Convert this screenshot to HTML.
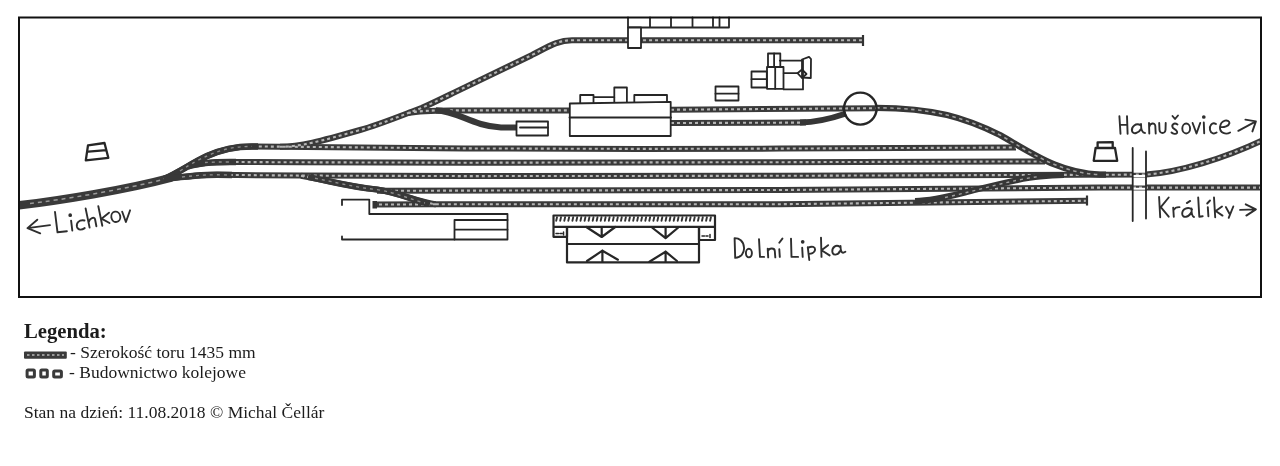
<!DOCTYPE html>
<html><head><meta charset="utf-8">
<style>
html,body{margin:0;padding:0;background:#fff;width:1280px;height:466px;overflow:hidden}
.leg{position:absolute;will-change:transform;font-family:"Liberation Serif",serif;color:#1c1c1c;white-space:nowrap;line-height:1}
svg{position:absolute;left:0;top:0}
</style></head><body>
<svg width="1280" height="466" viewBox="0 0 1280 466">
<defs>
<clipPath id="fr"><rect x="19" y="17" width="1242" height="280"/></clipPath>
<g id="T">
 <path d="M164,179 C185,176.5 200,174.8 217,174.8 L300,175.6 L465,176.1 L780,175.8 L1146,174.6 C1180,172 1225,158 1263,140"/>
 <path d="M164,179 C178,173 192,163 207,156 C222,149 235,146.4 252,146.4 L465,148.4 L640,148.9 L780,148.6 L1016,147.5"/>
 <path d="M188,166.5 C200,162.5 215,162 230,162 L300,162.3 L465,162.7 L780,162.2 L1045,161.4"/>
 <path d="M301,175.8 C330,181 350,187 377,189.5 C400,193 415,201 435,204.3 L780,204.2 L1087,200.8"/>
 <path d="M377,190.8 L780,190 L1100,187.6 L1260,187.6"/>
 <path d="M373,204.6 L436,204.3"/>
  <path d="M280,146.8 C300,146.7 320,141.5 360,130 C380,124.5 400,116 422,107.8 C435,102 445,97 454,92.6 L531.6,55.2 C548,46.8 558,40.2 572,40.2 L863,40.3"/>
 <path d="M408,113 C420,110.6 435,110.4 450,110.4 L569,110.4"/>
 <path d="M671,109.7 L878,108.2"/>
  <path d="M671,123 L806,122.6"/>
 </g>
</defs>
<!-- frame -->


<path clip-path="url(#fr)" d="M19,205.4 C60,200.5 125,190 170,178" fill="none" stroke="#3a3a3a" stroke-width="8.5" stroke-linecap="round"/>
<path d="M30,203.5 C60,200 125,189.5 166,178.8" fill="none" stroke="#9a9a9a" stroke-width="1.5" stroke-dasharray="4 4"/>
<use href="#T" clip-path="url(#fr)" fill="none" stroke="#3a3a3a" stroke-width="6"/>
<use href="#T" clip-path="url(#fr)" fill="none" stroke="#b4b4b4" stroke-width="2.1" stroke-dasharray="3 3"/>
<g fill="none">
<path d="M800,122.6 C815,122.3 830,119 846,113.5" stroke="#363636" stroke-width="6"/>
<g stroke="#383838" stroke-width="6.5"><path d="M164,179 C178,173 192,163 207,156 C222,149 235,146.4 252,146.4 L258,146.5"/>
<path d="M164,179 C185,176.5 200,174.8 217,174.8 L232,175"/>
<path d="M188,166.5 C200,162.5 215,162 230,162 L236,162.1"/></g>
<g stroke="#8c8c8c" stroke-width="1.4" stroke-dasharray="3 4"><path d="M180,171 C192,163 200,159 207,156 C222,149 235,146.4 252,146.4"/>
<path d="M182,177 C195,175.5 205,174.8 217,174.8 L232,175"/>
<path d="M205,162.5 C212,162.1 220,162 230,162"/></g>
<path d="M308,177 C330,181 350,187 377,189.5 C400,193 415,201 430,203.8" stroke="#383838" stroke-width="6.2"/>
<path d="M315,178.3 C335,182 355,187.5 377,189.6 C398,193 412,200 425,203" stroke="#8c8c8c" stroke-width="1.4" stroke-dasharray="3 4"/>
<path d="M436,110.4 C458,111 472,126 501,127.5 L518,127.5" stroke="#383838" stroke-width="6.2"/>
<path id="cv1" d="M876,107.8 C935,108 965,118 1000,135 C1035,155 1060,173 1100,174.6 L1106,174.6" stroke="#363636" stroke-width="6.2"/>
<path d="M876,107.8 C935,108 965,118 1000,135 C1035,155 1060,173 1100,174.6" stroke="#a0a0a0" stroke-width="1.6" stroke-dasharray="3.5 3.5"/>
<path d="M915,201.1 C930,200.8 945,197.5 965,192.5 C995,185 1020,178 1040,176.6 C1050,175.4 1056,175.1 1064,175" stroke="#363636" stroke-width="6"/>
<path d="M945,197.5 C980,190 1010,180 1040,176.5" stroke="#a0a0a0" stroke-width="1.4" stroke-dasharray="3 4"/>
</g>
<!-- bumpers -->
<g stroke="#333" stroke-width="2.2" fill="none">
 <line x1="863" y1="35" x2="863" y2="46"/>
 <line x1="1087" y1="195.5" x2="1087" y2="205.5"/>
 <rect x="372.5" y="201" width="4.5" height="7.5" fill="#333" stroke="none"/>
</g>

<g fill="none" stroke="#262626" stroke-width="1.8" stroke-linejoin="round" stroke-linecap="round">
 <!-- circle -->
 <ellipse cx="860.3" cy="108.6" rx="16.3" ry="16" stroke-width="2.4"/>
 <!-- top buildings -->
 <path d="M628,17.5 V27.5 H729 V17.5 M650,17.5 V27 M671,17.5 V27 M692.5,17.5 V26.5 M713,17.5 V26 M719.5,17.5 V26"/>
 <rect x="628" y="27.5" width="13" height="20.5" fill="#fff"/>
 <!-- small rect near shed -->
 <rect x="715.5" y="86.5" width="23" height="14"/>
 <line x1="715.5" y1="93.7" x2="738.5" y2="93.7"/>
 <!-- shed complex -->
 <rect x="751.5" y="71.5" width="15.3" height="16"/>
 <line x1="751.5" y1="79.2" x2="766.8" y2="79.2"/>
 <rect x="767" y="67" width="16.5" height="21.8"/>
 <line x1="775.2" y1="67" x2="775.2" y2="88.8"/>
 <rect x="768" y="53.5" width="12.3" height="13.5"/>
 <line x1="774.1" y1="53.5" x2="774.1" y2="67"/>
 <path d="M779.8,60.6 H802.5 M803,60 V89.4 H783.7 M783.7,73.2 H797.5"/>
 <path d="M802,59.5 L809,56.8 L811,59 L810.8,78 L802,77.5 Z"/>
 <path d="M797.5,73.2 L802,69.5 L806.5,74 L802,78 Z"/>
 <!-- station building -->
 <path d="M569.8,103.5 L670.7,101.8 V136 H569.8 Z" fill="#fff"/>
 <line x1="569.5" y1="117.5" x2="671" y2="117.5"/>
 <path d="M580.2,103 V95 H593.5 V103 M593.5,97.2 H614.3"/>
 <path d="M614.3,102 V87.5 H626.9 V102"/>
 <path d="M634.3,102 V95 H667 V101.5"/>
 <rect x="516.5" y="121.5" width="31.5" height="14" fill="#fff"/>
 <line x1="520" y1="127.5" x2="548" y2="127.5"/>
 <!-- platforms trapezoids -->
 <g stroke-width="2.3"><path d="M88,145.3 L104.5,143 L108.3,157.8 L85.8,160.4 Z M88.4,151.7 L106.3,150.1"/>
 <path d="M1097.6,147.6 V142.4 L1112.7,142.1 V147.2 M1095.6,148 H1115 L1117.2,160.8 H1093.7 Z"/></g>
 <!-- bottom-left thin lines -->
 <path d="M342,205 V199.6 H369.3 V214 H507.5 V239.5 H342 V236.5"/>
 <path d="M454.5,220 H507.5 M454.5,229.6 H507.5 M454.5,220 V239.5"/>
 <!-- bottom platform -->
 <g stroke-width="2.2">
 <path d="M553.5,215.5 H715 V240 H699 V227 H567 V236.8 H553.5 Z M553.5,226.8 H715"/>
 <path d="M567,227 V262.4 H699 V227 M567,244 H699"/>
 <path d="M586.3,227 L601.7,237 L615.2,227 M601.7,228 V237 M652,227.5 L665.6,238.2 L678.3,227.5 M665.6,228 V238"/>
 <path d="M587,261 L602.4,250.7 L617.9,259.7 M602.4,250.7 V262 M649.4,261.7 L665.6,251.7 L677,261 M665.6,251.7 V262"/>
 </g>
 <path d="M556,233.5 h2.5 M560,233.5 h2 M563.5,232 v3 M702,236 h2.5 M706,236 h2 M710,234.5 v3" stroke-width="1.5"/>
 <!-- bridge -->
 <path d="M1133,171.8 H1146 M1133,176 H1146 M1133,184.5 H1146 M1133,188.8 H1146" stroke="#fff" stroke-width="2"/>
 <path d="M1132.7,148 V221 M1146,151.5 V218.5"/>
</g>
<!-- hatching on platform -->
<path d="M557.0,217.2 l-0.8,3.6 M561.0,217.2 l-0.8,3.6 M565.1,217.2 l-0.8,3.6 M569.1,217.2 l-0.8,3.6 M573.2,217.2 l-0.8,3.6 M577.2,217.2 l-0.8,3.6 M581.3,217.2 l-0.8,3.6 M585.4,217.2 l-0.8,3.6 M589.4,217.2 l-0.8,3.6 M593.5,217.2 l-0.8,3.6 M597.5,217.2 l-0.8,3.6 M601.5,217.2 l-0.8,3.6 M605.6,217.2 l-0.8,3.6 M609.6,217.2 l-0.8,3.6 M613.7,217.2 l-0.8,3.6 M617.8,217.2 l-0.8,3.6 M621.8,217.2 l-0.8,3.6 M625.9,217.2 l-0.8,3.6 M629.9,217.2 l-0.8,3.6 M634.0,217.2 l-0.8,3.6 M638.0,217.2 l-0.8,3.6 M642.0,217.2 l-0.8,3.6 M646.1,217.2 l-0.8,3.6 M650.1,217.2 l-0.8,3.6 M654.2,217.2 l-0.8,3.6 M658.2,217.2 l-0.8,3.6 M662.3,217.2 l-0.8,3.6 M666.4,217.2 l-0.8,3.6 M670.4,217.2 l-0.8,3.6 M674.5,217.2 l-0.8,3.6 M678.5,217.2 l-0.8,3.6 M682.5,217.2 l-0.8,3.6 M686.6,217.2 l-0.8,3.6 M690.6,217.2 l-0.8,3.6 M694.7,217.2 l-0.8,3.6 M698.8,217.2 l-0.8,3.6 M702.8,217.2 l-0.8,3.6 M706.9,217.2 l-0.8,3.6 M710.9,217.2 l-0.8,3.6" stroke="#333" stroke-width="1.9" stroke-linecap="round"/>

<!-- handwriting -->
<g fill="none" stroke="#2e2e2e" stroke-width="1.9" stroke-linecap="round" stroke-linejoin="round">
 <!-- <- Lichkov -->
 <path d="M37.3,219.7 L27.5,228.1 L40.2,233.3 M27.5,228.1 L50,225.1"/>
 <path d="M55,212 L57.5,232.3 L66.9,231.2"/>
 <path d="M71.1,220.6 L72.3,230.5"/><circle cx="70.2" cy="215.2" r="0.9" fill="#222"/>
 <path d="M84.5,220.5 C79,219.5 76,223 77,227 C78,230.5 82,230 84.7,228.1"/>
 <path d="M85.6,208.4 L89.6,227.6 M88.9,221.6 C90,218 94,216.5 95,219 L96.4,226.2"/>
 <path d="M98.3,206.1 L102.3,225.8 M109,212.7 L101.5,218.7 L109.5,223"/>
 <ellipse cx="115.8" cy="216.8" rx="4.5" ry="5.2" transform="rotate(-10 115.8 216.8)"/>
 <path d="M122.2,211.7 L125.9,222 L130.1,210.3"/>
 <!-- Hanusovice -> -->
 <path d="M1119.4,116.1 L1120.5,133.7 M1127,116.1 L1127.6,133.7 M1120,124.9 H1127.3"/>
 <path d="M1141,125.5 C1136,122 1131,127 1132,131 C1133,135 1139,133 1141,129 M1141,124 C1141,129 1142,133 1145,133"/>
 <path d="M1149,123 L1149.3,133.5 M1149.2,127 C1150,123 1155,122 1155.3,126 L1155.7,133.5"/>
 <path d="M1159.2,123 L1159.5,130 C1160,134 1165,134 1165.5,130 L1165.7,123"/>
 <path d="M1177.5,124.5 C1174,122 1171,125 1173,128 C1176,130 1178,131 1177,133 C1176,134.5 1173,134 1171.5,132.5 M1172.5,116 L1175,119 L1178,115.5"/>
 <ellipse cx="1186.2" cy="128.5" rx="3.9" ry="5" />
 <path d="M1192.6,123 L1196.5,133.5 L1200.2,123"/>
 <path d="M1203.8,122.5 L1204.2,133.3"/><circle cx="1203.8" cy="117" r="0.9" fill="#222"/>
 <path d="M1216,124 C1212,121.5 1209,126 1210,130 C1211,134 1214.5,134 1216.6,132.5"/>
 <path d="M1220.5,127 C1224,127.5 1229,126 1229.5,123 C1229,119 1221,119.5 1220,127 C1219.5,133 1226,135 1230.1,132.5"/>
 <path d="M1238.3,130.8 L1255.9,121.4 M1245.4,119.6 L1255.9,121.4 L1252.4,131.4"/>
 <!-- Kraliky -> -->
 <path d="M1159.1,196.9 L1160.2,217.3 M1168.7,197.5 L1160.8,207.1 L1168.7,216.7"/>
 <path d="M1173.2,207.7 L1173.8,216.7 M1173.6,210 C1175,207.5 1177.5,207 1179.5,207.1"/>
 <path d="M1192,209.5 C1188,206 1182,209 1182.2,214 C1182.5,218.5 1189,217.5 1191.5,212 M1191.5,208.5 C1191.5,213 1192,216.5 1194,217"/>
 <path d="M1186.8,203.1 L1190.2,200.9"/>
 <path d="M1198.2,197.5 L1199.3,216.7 L1202.7,216.2"/>
 <path d="M1207.8,207.1 L1208.4,216.2 M1207.2,203.5 L1210,200.5"/>
 <path d="M1214,197.5 L1215.2,217.3 M1222,206.5 L1215.7,211 L1222.5,215.6"/>
 <path d="M1225.9,207.1 L1229.9,214.5 M1233.3,206.5 L1228.7,217.8"/>
 <path d="M1240.1,209.9 L1255.9,209.4 M1245.7,204.3 L1255.9,209.4 L1246.3,215.6"/>
 <!-- Dolni Lipka -->
 <path d="M734.6,238.1 L735.2,257.9 C741,257.5 744.5,253 744,247.5 C743.5,241 739,238 734.6,238.1"/>
 <ellipse cx="748.9" cy="253.1" rx="3" ry="4.3"/>
 <path d="M759,239.1 L760,256.9 L764.1,256.9"/>
 <path d="M767.7,248.8 L768.2,257.4 M768,251 C769,248 774.5,247.5 774.8,251 L775.3,257.4"/>
 <path d="M779.3,249.3 L779.8,256.9 M779.3,242.7 L782.4,238.6"/>
 <path d="M791,238.6 L791.5,256.9 L798.1,256.9"/>
 <path d="M802.2,247.8 L802.7,256.9"/><circle cx="802.7" cy="241.8" r="0.9" fill="#222"/>
 <path d="M807.8,247.3 L809.3,260 M808,248 C812,245.5 815.5,247 815,250 C814.5,253 811,254 808.5,253.8"/>
 <path d="M821,237.6 L821.5,256.9 M828.1,245.2 L821.5,250.3 L829.6,255.4"/>
 <path d="M840,247 C836,244 832,247.5 832.3,251.5 C832.7,256 838,255.5 840,251 M840.5,246 C840.5,251 841.5,254.5 845.4,251.8"/>
</g>
<rect x="19" y="17.5" width="1242" height="279.5" fill="none" stroke="#111" stroke-width="2"/>
<!-- legend icons -->
<rect x="24" y="351.5" width="42.8" height="7.2" rx="1" fill="#3a3a3a"/>
<path d="M27,355 H64" stroke="#b8b8b8" stroke-width="1.3" stroke-dasharray="2.5 2.5"/>
<g fill="none" stroke="#3a3a3a" stroke-width="3" stroke-linejoin="round">
 <rect x="27.1" y="370.1" width="7.3" height="6.9" rx="1"/>
 <rect x="40.8" y="370.1" width="6.5" height="6.9" rx="1"/>
 <rect x="53.7" y="371" width="7.7" height="6" rx="1"/>
</g>
</svg>
<div class="leg" style="left:24px;top:321px;font-size:20.7px;font-weight:bold">Legenda:</div>
<div class="leg" style="left:70px;top:344px;font-size:17.5px">- Szerokość toru 1435 mm</div>
<div class="leg" style="left:69px;top:364px;font-size:17.5px">- Budownictwo kolejowe</div>
<div class="leg" style="left:24px;top:404px;font-size:17.5px">Stan na dzień: 11.08.2018 © Michal Čellár</div>
</body></html>
